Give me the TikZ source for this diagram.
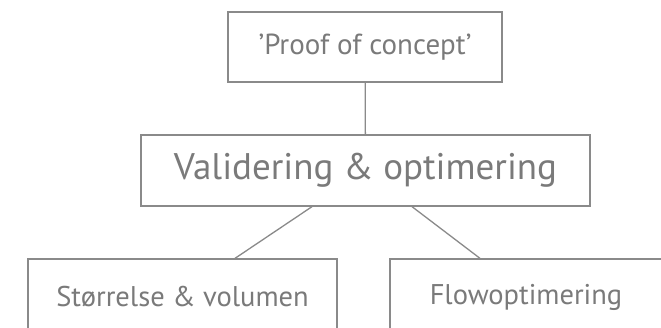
\documentclass[tikz,border=0pt]{standalone}
\usepackage{fontspec}
\setmainfont{PT Sans}
\usepackage{tikz}
\usetikzlibrary{positioning}
\definecolor{boxgrey}{HTML}{8A8A8A}
\definecolor{textgrey}{HTML}{7A7A7A}

\begin{document}
\begin{tikzpicture}[x=1pt, y=-1pt,
    box/.style={draw=boxgrey, line width=1.3pt, text=textgrey, inner sep=0pt, align=center},
    link/.style={draw=boxgrey, line width=1.3pt}]
      \useasboundingbox (0, 0) rectangle (661, 327);
      \node (poc) [box, minimum width=274pt, minimum height=70pt, font=\fontsize{29}{34}\selectfont] at (365, 47) {'Proof of concept'};
      \node (valid) [box, minimum width=449pt, minimum height=71pt, font=\fontsize{37}{44}\selectfont] at (365.5, 170.5) {Validering \& optimering};
      \node (size) [box, minimum width=309pt, minimum height=76pt, font=\fontsize{28.5}{34}\selectfont] at (182.5, 297) {Størrelse \& volumen};
      \node (flow) [box, minimum width=272pt, minimum height=76pt, font=\fontsize{28.5}{34}\selectfont] at (526, 297) {Flowoptimering};
      \draw [link] (poc) -- (valid)
                   ([xshift=-53.5pt]valid.south) -- ([xshift=52.5pt]size.north)
                   ([xshift=46.5pt]valid.south) -- ([xshift=-46pt]flow.north);
\end{tikzpicture}
\end{document}
